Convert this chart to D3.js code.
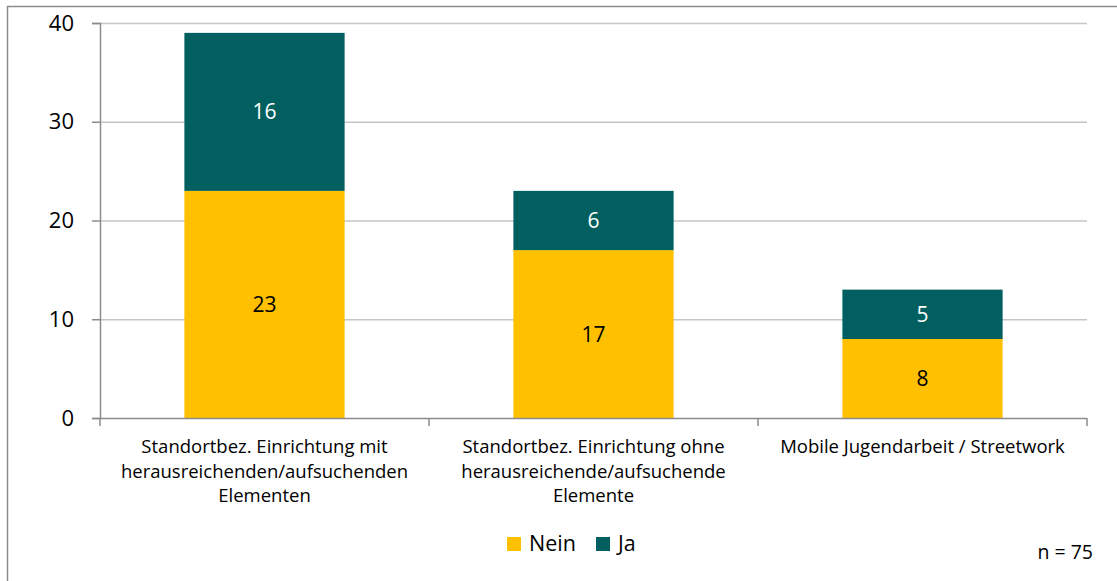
<!DOCTYPE html>
<html>
<head>
<meta charset="utf-8">
<script src="https://cdn.jsdelivr.net/npm/d3@7"></script>
<style>
  body { margin: 0; background: #fff; }
  text { font-family: "Open Sans", sans-serif; }
</style>
</head>
<body>
<div id="chart"></div>
<script>
var categories = [
  ["Standortbez. Einrichtung mit", "herausreichenden/aufsuchenden", "Elementen"],
  ["Standortbez. Einrichtung ohne", "herausreichende/aufsuchende", "Elemente"],
  ["Mobile Jugendarbeit / Streetwork"]
];
var nein = [23, 17, 8];
var ja = [16, 6, 5];
var keys = ["Nein", "Ja"];
var yTicks = [0, 10, 20, 30, 40];

var width = 1117, height = 581;
var svg = d3.select("#chart").append("svg")
    .attr("width", width)
    .attr("height", height);

// outer frame
svg.append("rect")
    .attr("x", 7.5).attr("y", 6.5)
    .attr("width", width).attr("height", height)
    .attr("fill", "none")
    .attr("stroke", "#8c8c8c")
    .attr("stroke-width", 1.5);

var mLeft = 100, mRight = 1087, mTop = 23, mBottom = 418;

var x = d3.scaleBand()
    .domain(d3.range(categories.length))
    .range([mLeft, mRight])
    .paddingInner(0)
    .paddingOuter(0);

var y = d3.scaleLinear()
    .domain([0, 40])
    .range([mBottom, mTop]);

var z = d3.scaleOrdinal().domain(keys).range(["#ffc000", "#015f5f"]);

// gridlines
svg.append("g")
  .selectAll("line")
  .data(yTicks.slice(1))
  .enter().append("line")
    .attr("x1", mLeft).attr("x2", mRight)
    .attr("y1", function(d) { return y(d) + 0.5; })
    .attr("y2", function(d) { return y(d) + 0.5; })
    .attr("stroke", "#c6c6c6")
    .attr("stroke-width", 1.5);

var data = categories.map(function(c, i) {
  return {i: i, Nein: nein[i], Ja: ja[i]};
});
var stacked = d3.stack().keys(keys)(data);

var bw = x.bandwidth() * 0.487;
svg.append("g")
  .selectAll("g")
  .data(stacked)
  .enter().append("g")
    .attr("fill", function(d) { return z(d.key); })
  .selectAll("rect")
  .data(function(d) { return d; })
  .enter().append("rect")
    .attr("x", function(d) { return x(d.data.i) + (x.bandwidth() - bw) / 2; })
    .attr("y", function(d) { return y(d[1]); })
    .attr("width", bw)
    .attr("height", function(d) { return y(d[0]) - y(d[1]); });

// data labels
stacked.forEach(function(s) {
  svg.append("g")
    .selectAll("text")
    .data(s)
    .enter().append("text")
      .attr("x", function(d) { return x(d.data.i) + x.bandwidth() / 2; })
      .attr("y", function(d) { return (y(d[0]) + y(d[1])) / 2; })
      .attr("dy", "0.36em")
      .attr("text-anchor", "middle")
      .attr("font-size", 21)
      .attr("fill", s.key == "Ja" ? "#fff" : "#000")
      .text(function(d) { return d[1] - d[0]; });
});

// y axis
var yAxis = svg.append("g")
    .attr("transform", "translate(" + mLeft + ",0)")
    .call(d3.axisLeft(y).tickValues(yTicks).tickSize(8).tickPadding(18));
yAxis.select(".domain").attr("stroke", "#8c8c8c").attr("stroke-width", 1.5);
yAxis.selectAll(".tick line").attr("stroke", "#8c8c8c").attr("stroke-width", 1.5);
yAxis.selectAll(".tick text").attr("font-size", 22).attr("fill", "#000")
    .style("font-family", "'Open Sans', sans-serif");

// x axis
var xb = svg.append("g").attr("transform", "translate(0," + mBottom + ")");
xb.append("line")
    .attr("x1", mLeft).attr("x2", mRight)
    .attr("y1", 0.5).attr("y2", 0.5)
    .attr("stroke", "#8c8c8c").attr("stroke-width", 1.5);
xb.selectAll(".xt")
  .data(d3.range(categories.length + 1))
  .enter().append("line")
    .attr("x1", function(d) { return mLeft + d * x.step(); })
    .attr("x2", function(d) { return mLeft + d * x.step(); })
    .attr("y1", 0).attr("y2", 8)
    .attr("stroke", "#8c8c8c").attr("stroke-width", 1.5);

var cl = xb.selectAll(".cl")
  .data(categories)
  .enter().append("text")
    .attr("text-anchor", "middle")
    .attr("font-size", 18.5)
    .attr("fill", "#000")
    .attr("transform", function(d, i) { return "translate(" + (x(i) + x.bandwidth() / 2) + ",35)"; });
cl.selectAll("tspan")
  .data(function(d) { return d; })
  .enter().append("tspan")
    .attr("x", 0)
    .attr("y", function(d, i) { return i * 24.5; })
    .text(function(d) { return d; });

// legend
var legend = svg.append("g")
  .selectAll("g")
  .data(keys)
  .enter().append("g")
    .attr("transform", function(d, i) { return "translate(" + (507 + i * 89) + ",537)"; });
legend.append("rect")
    .attr("width", 14).attr("height", 14)
    .attr("fill", z);
legend.append("text")
    .attr("x", 22)
    .attr("y", 14)
    .attr("font-size", 21.5)
    .attr("fill", "#000")
    .text(function(d) { return d; });

svg.append("text")
    .attr("x", 1093)
    .attr("y", 559)
    .attr("text-anchor", "end")
    .attr("font-size", 19.5)
    .attr("fill", "#000")
    .text("n = 75");
</script>
</body>
</html>
